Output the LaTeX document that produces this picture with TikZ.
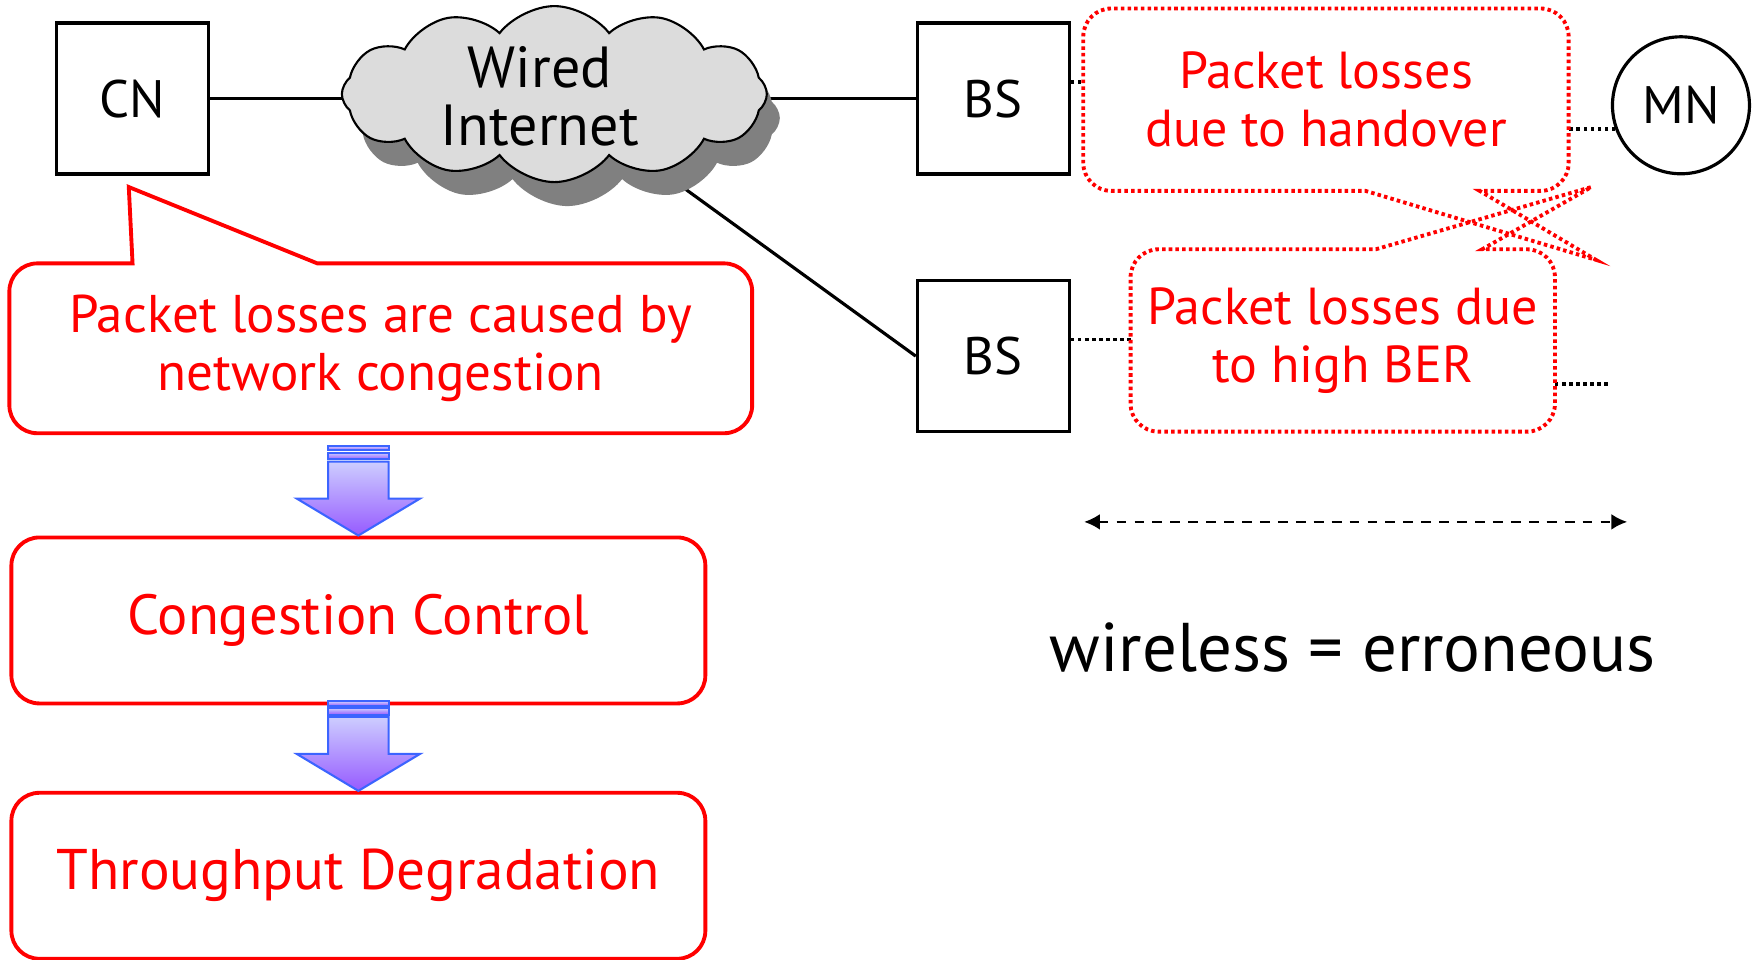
\documentclass[tikz,border=0pt]{standalone}
\usepackage{fontspec}
\setmainfont{PT Sans}
\usetikzlibrary{shapes}
\usetikzlibrary{shadows}
\usetikzlibrary{calc}
\usetikzlibrary{backgrounds}
\usetikzlibrary{arrows.meta}
\definecolor{lossred}{RGB}{255,0,0}
\definecolor{cloudgray}{RGB}{220,220,220}
\definecolor{arrowtop}{RGB}{205,205,255}
\definecolor{arrowbot}{RGB}{150,90,255}
\definecolor{arrowline}{RGB}{60,100,255}
\tikzset{
    netbox/.style = {rectangle, draw=black, line width=0.9pt, minimum width=1.52cm, minimum height=1.51cm, font=\fontsize{15}{18}\selectfont},
    netcirc/.style = {circle, draw=black, line width=0.9pt, minimum size=1.37cm, inner sep=0pt, font=\fontsize{15}{18}\selectfont},
    netcloud/.style = {cloud, cloud puffs=12, cloud puff arc=105, aspect=2.5, draw=black, line width=0.6pt, fill=cloudgray, minimum width=4.25cm, minimum height=1.76cm, inner sep=0pt,
        drop shadow={shadow xshift=0.13cm, shadow yshift=-0.24cm, fill=black!50, opacity=1}},
    cloudtext/.style = {align=center, inner sep=0pt, font=\fontsize{16.5}{16.5}\selectfont},
    losstext/.style = {rectangle, draw=none, align=center, text=lossred, inner sep=0pt, minimum height=1.81cm, font=\fontsize{14.8}{16.5}\selectfont},
    stepbox/.style = {rectangle, draw=lossred, line width=1.1pt, rounded corners=0.28cm, align=center, text=lossred, minimum width=6.94cm, minimum height=1.66cm},
    wire/.style = {line width=0.9pt},
    dotwire/.style = {line width=1pt, dash pattern=on 1pt off 1pt},
    calloutline/.style = {draw=lossred, line width=1.1pt},
    calloutdots/.style = {draw=lossred, line width=1.1pt, dash pattern=on 1pt off 0.9pt},
    blockarrow/.style = {draw=arrowline, line width=0.6pt, top color=arrowtop, bottom color=arrowbot},
    spanarrow/.style = {{Latex[length=4.5pt,width=4.5pt]}-{Latex[length=4.5pt,width=4.5pt]}, line width=0.7pt, dash pattern=on 2.8pt off 2.3pt}
}
\begin{document}
\begin{tikzpicture}[x=0.0112cm, y=-0.0112cm]
\useasboundingbox (0,0) rectangle (1568,857);
%
\node[netbox] at (118,88) (cn) {CN};
\node[netcloud] at (495,84) (cloud) {};
\node[cloudtext] at (482,86) (cloudlabel) {Wired\\Internet};
\node[netbox] at (887,88) (bs1) {BS};
\node[netbox] at (887,318) (bs2) {BS};
\node[netcirc] at (1501,94) (mn) {MN};
\node[losstext, minimum width=4.84cm] at (1184,89) (lossho) {Packet losses\\due to handover};
\node[losstext, minimum width=4.23cm] at (1199,304) (lossber) {Packet losses due\\to high BER};
\node[stepbox, draw=none, minimum width=7.39cm, font=\fontsize{15.1}{16.5}\selectfont] at (340,311) (cause) {Packet losses are caused by\\network congestion};
\node[stepbox, font=\fontsize{16.1}{20}\selectfont] at (320,554) (control) {Congestion Control};
\node[stepbox, font=\fontsize{16.3}{20}\selectfont] at (320,782) (degrade) {Throughput Degradation};
\node[font=\fontsize{19.6}{24}\selectfont] at (1208,578) (slogan) {wireless = erroneous};
%
\coordinate (causetip) at (115,167);
\coordinate (hotip) at (1425,232);
\coordinate (bertip) at (1421,167);
\coordinate (berend) at (1438,343);
\coordinate (spanl) at (968,466);
\coordinate (spanr) at (1453,466);
%
\begin{scope}[on background layer]
\draw[wire] (cn.east) -- (cn.east -| cloud.center);
\draw[wire] (bs1.west) -- (bs1.west -| cloud.center);
\draw[wire] (cloud.center) -- (bs2.west);
\end{scope}
%
\path (bs1.east) ++(0,-15) coordinate (bs1out);
\path (bs2.east) ++(0,-15) coordinate (bs2out);
\draw[dotwire] (bs1out) -- (bs1out -| lossho.west);
\draw[dotwire] (mn.200) -- (mn.200 -| lossho.east);
\draw[dotwire] (bs2out) -- (bs2out -| lossber.west);
\draw[dotwire] (berend -| lossber.east) -- (berend);
%
% callouts with their tails
\draw[calloutline] (cause.south) [rounded corners=0.28cm] -- (cause.south west) -- (cause.north west) [sharp corners] -- ($(cause.north west)+(110,0)$) -- (causetip) -- ($(cause.north west)+(275,0)$) [rounded corners=0.28cm] -- (cause.north east) -- (cause.south east) -- cycle;
\draw[calloutdots] (lossho.north) [rounded corners=0.28cm] -- (lossho.north east) -- (lossho.south east) [sharp corners] -- ($(lossho.south west)+(354,0)$) -- (hotip) -- ($(lossho.south west)+(252,0)$) [rounded corners=0.28cm] -- (lossho.south west) -- (lossho.north west) -- cycle;
\draw[calloutdots] (lossber.south) [rounded corners=0.28cm] -- (lossber.south west) -- (lossber.north west) [sharp corners] -- ($(lossber.north west)+(219,0)$) -- (bertip) -- ($(lossber.north west)+(314,0)$) [rounded corners=0.28cm] -- (lossber.north east) -- (lossber.south east) -- cycle;
%
\foreach \dst in {control, degrade} {
  \shadedraw[blockarrow] (\dst.north) -- ++(-55,-33) -- ++(28,0) -- ++(0,-33) -- ++(54,0) -- ++(0,33) -- ++(28,0) -- cycle;
  \shadedraw[blockarrow] ($(\dst.north)+(-27,-74)$) rectangle ++(54,6);
  \shadedraw[blockarrow] ($(\dst.north)+(-27,-80)$) rectangle ++(54,4);
}
%
\draw[spanarrow] (spanl) -- (spanr);
\end{tikzpicture}
\end{document}
